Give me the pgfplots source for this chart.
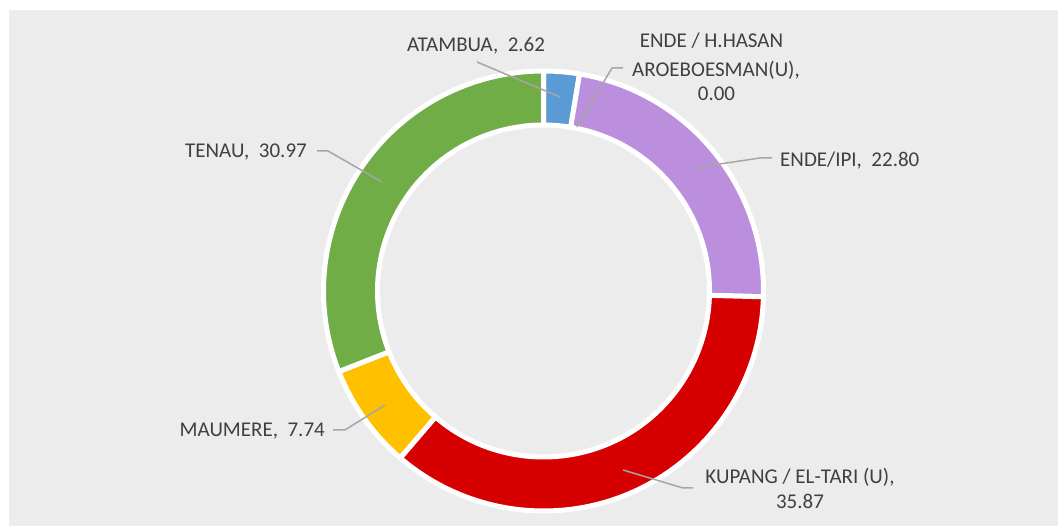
\documentclass[border=0pt]{standalone}
\usepackage{pgfplots}
\pgfplotsset{compat=1.18}
\usepackage{fontspec}
\setmainfont{Carlito}
\definecolor{cBlue}{RGB}{91,155,213}
\definecolor{cPurple}{RGB}{187,143,221}
\definecolor{cRed}{RGB}{214,0,0}
\definecolor{cYellow}{RGB}{255,192,0}
\definecolor{cGreen}{RGB}{112,173,71}
\definecolor{cBg}{RGB}{236,236,236}
\definecolor{cTxt}{RGB}{64,64,64}
\definecolor{cLine}{RGB}{166,166,166}
% #1 cumulative share before slice, #2 share of slice, #3 colour
\newcommand{\seg}[3]{%
  \filldraw[fill=#3, draw=white, line width=5pt, line join=round]
    (axis cs:543.5,235) ++({90-3.6*(#1)}:220pt)
    arc[start angle={90-3.6*(#1)}, end angle={90-3.6*(#1+#2)}, radius=220pt]
    -- ++({90-3.6*(#1+#2)}:-54pt)
    arc[start angle={90-3.6*(#1+#2)}, end angle={90-3.6*(#1)}, radius=166pt]
    -- cycle;}
\begin{document}
\begin{tikzpicture}
\begin{axis}[x=1pt,y=1pt,xmin=0,xmax=1058,ymin=0,ymax=526,
  scale only axis, axis lines=none, clip=false]
\fill[white] (axis cs:0,0) rectangle (axis cs:1058,526);
\fill[cBg] (axis cs:9,0) rectangle (axis cs:1058,516);
% shares: ATAMBUA 2.62, ENDE/H.HASAN 0.00, ENDE/IPI 22.80, KUPANG 35.87, MAUMERE 7.74, TENAU 30.97
\seg{0}{2.62}{cBlue}
\seg{2.62}{22.80}{cPurple}
\seg{25.42}{35.87}{cRed}
\seg{61.29}{7.74}{cYellow}
\seg{69.03}{30.97}{cGreen}
% leader lines
\draw[cLine, line width=1.5pt] (axis cs:477,464) -- (axis cs:560,429);
\draw[cLine, line width=1.5pt] (axis cs:623,458) -- (axis cs:612,458) -- (axis cs:577,399);
\draw[cLine, line width=1.5pt] (axis cs:772,368) -- (axis cs:760,368) -- (axis cs:693,358);
\draw[cLine, line width=1.5pt] (axis cs:317,375) -- (axis cs:328,375) -- (axis cs:382,344);
\draw[cLine, line width=1.5pt] (axis cs:333,96) -- (axis cs:345,96) -- (axis cs:385,121);
\draw[cLine, line width=1.5pt] (axis cs:693,38) -- (axis cs:683,38) -- (axis cs:623,56);
% labels
\begin{scope}[every node/.style={text=cTxt, inner sep=0pt, font=\fontsize{21}{25}\selectfont}]
\node[anchor=base] at (axis cs:476,474) {ATAMBUA,\ \ 2.62};
\node[anchor=base] at (axis cs:711.5,478) {ENDE / H.HASAN};
\node[anchor=base] at (axis cs:716,449) {AROEBOESMAN(U),};
\node[anchor=base] at (axis cs:716.5,425) {0.00};
\node[anchor=base west] at (axis cs:780,359) {ENDE/IPI,\ \ 22.80};
\node[anchor=base east] at (axis cs:307,368) {TENAU,\ \ 30.97};
\node[anchor=base east] at (axis cs:325,89) {MAUMERE,\ \ 7.74};
\node[anchor=base] at (axis cs:800,42) {KUPANG / EL-TARI (U),};
\node[anchor=base] at (axis cs:800,17) {35.87};
\end{scope}
\end{axis}
\end{tikzpicture}
\end{document}
